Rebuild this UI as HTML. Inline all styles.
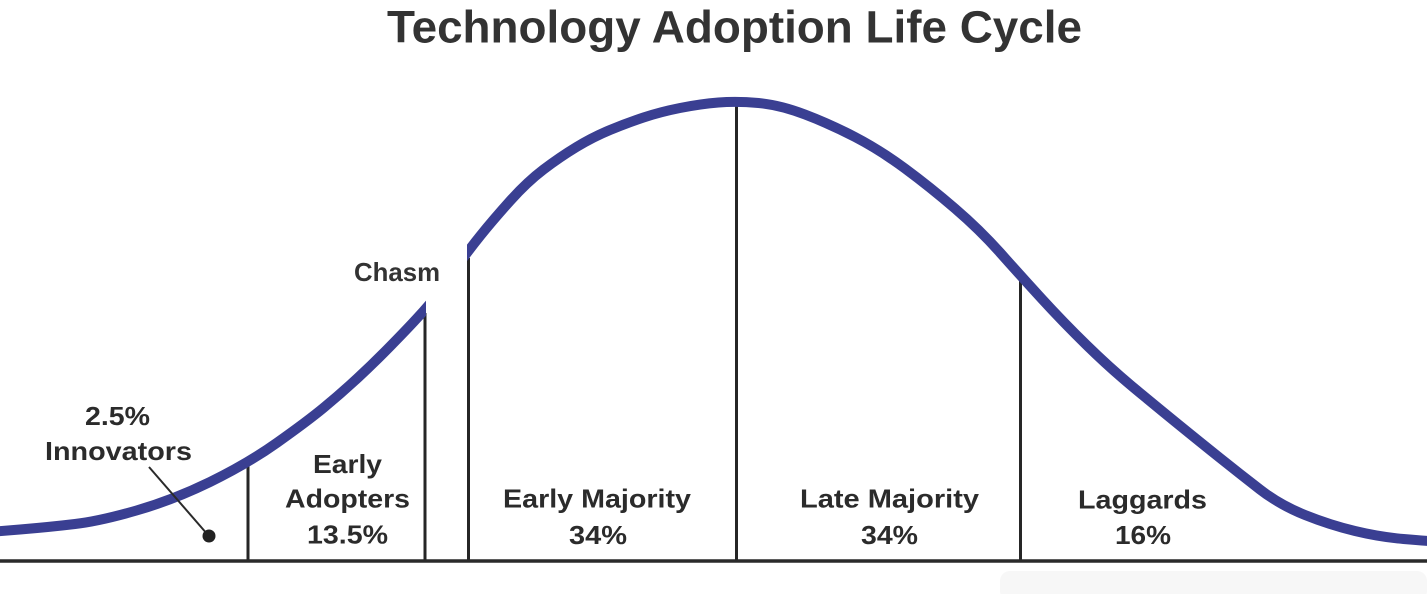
<!DOCTYPE html>
<html>
<head>
<meta charset="utf-8">
<style>
  html, body { margin: 0; padding: 0; background: #ffffff; }
  body { width: 1427px; height: 594px; overflow: hidden; }
  svg { display: block; }
  .t { font-family: "Liberation Sans", Arial, sans-serif; font-weight: bold; fill: #2b2b2b; }
</style>
</head>
<body>
<svg width="1427" height="594" viewBox="0 0 1427 594" xmlns="http://www.w3.org/2000/svg">
  <defs>
    <clipPath id="cl"><rect x="-20" y="0" width="446" height="594"/></clipPath>
    <clipPath id="cr"><rect x="467" y="0" width="1000" height="594"/></clipPath>
  </defs>

  <!-- faint box lower right -->
  <rect x="1000" y="571" width="427" height="30" rx="10" fill="#f7f7f7"/>

  <!-- Title -->
  <text class="t" x="387" y="42.5" font-size="45.5" textLength="695" lengthAdjust="spacingAndGlyphs" style="fill:#333333">Technology Adoption Life Cycle</text>

  <!-- vertical lines -->
  <g stroke="#262626" stroke-width="3" fill="none">
    <line x1="248" y1="462" x2="248" y2="562"/>
    <line x1="425" y1="313" x2="425" y2="562"/>
    <line x1="468.5" y1="258" x2="468.5" y2="562"/>
    <line x1="736.5" y1="100" x2="736.5" y2="562"/>
    <line x1="1020.5" y1="277" x2="1020.5" y2="562"/>
  </g>

  <!-- baseline axis -->
  <line x1="0" y1="561" x2="1427" y2="561" stroke="#2a2a2a" stroke-width="3.5"/>

  <!-- left curve -->
  <path clip-path="url(#cl)" fill="none" stroke="#3a3f92" stroke-width="10" stroke-linecap="butt" stroke-linejoin="round"
    d="M -10 532 L 20 529.5 Q 50 527 75 524 Q 100 521 136.5 510.5 Q 173 500 210 482 Q 247 464 277 442.75 Q 307 421.5 323.5 407.9 Q 340 394.3 356.5 379.1 Q 373 363.9 390 346.55 Q 407 329.2 417 318.3 Q 427 307.4 437 295.2 L 447 283"/>

  <!-- main curve -->
  <path clip-path="url(#cr)" fill="none" stroke="#3a3f92" stroke-width="10" stroke-linecap="butt" stroke-linejoin="round"
    d="M 440 290 L 454 270.5 Q 468 251 480.5 235.5 Q 493 220 510 201 Q 527 182 543.5 169.5 Q 560 157 576.5 147 Q 593 137 610 130 Q 627 123 643.5 117.5 Q 660 112 680 108 Q 700 104 718.5 102.5 Q 737 101 758.5 103 Q 780 105 805 114.5 Q 830 124 855 137 Q 880 150 905 168.5 Q 930 187 955 208.5 Q 980 230 1000 252.5 Q 1020 275 1041.5 298.5 Q 1063 322 1086.5 345 Q 1110 368 1133.5 387.5 Q 1157 407 1178.5 424.5 Q 1200 442 1220 458 Q 1240 474 1260 489.5 Q 1280 505 1305 515 Q 1330 525 1355 531 Q 1380 537 1403.5 539 Q 1427 541 1443.5 542 L 1460 543"/>

  <!-- innovators pointer -->
  <line x1="149" y1="467" x2="208" y2="535" stroke="#2a2a2a" stroke-width="2"/>
  <circle cx="209" cy="536" r="6.5" fill="#222222"/>

  <!-- Chasm -->
  <text class="t" x="354" y="281" font-size="26" textLength="86" lengthAdjust="spacingAndGlyphs" style="fill:#333333">Chasm</text>

  <!-- Labels -->
  <g class="t" font-size="26" text-anchor="middle">
    <text class="t" x="117.5" y="425" textLength="65" lengthAdjust="spacingAndGlyphs">2.5%</text>
    <text class="t" x="118.5" y="460" textLength="147" lengthAdjust="spacingAndGlyphs">Innovators</text>

    <text class="t" x="347.5" y="473" textLength="69" lengthAdjust="spacingAndGlyphs">Early</text>
    <text class="t" x="347.5" y="507.5" textLength="125" lengthAdjust="spacingAndGlyphs">Adopters</text>
    <text class="t" x="347.5" y="543.5" textLength="81" lengthAdjust="spacingAndGlyphs">13.5%</text>

    <text class="t" x="597" y="507.5" textLength="188" lengthAdjust="spacingAndGlyphs">Early Majority</text>
    <text class="t" x="598" y="544" textLength="58" lengthAdjust="spacingAndGlyphs">34%</text>

    <text class="t" x="889.5" y="507.5" textLength="179" lengthAdjust="spacingAndGlyphs">Late Majority</text>
    <text class="t" x="889.5" y="544" textLength="57" lengthAdjust="spacingAndGlyphs">34%</text>

    <text class="t" x="1142.5" y="508.5" textLength="129" lengthAdjust="spacingAndGlyphs">Laggards</text>
    <text class="t" x="1143" y="544" textLength="56" lengthAdjust="spacingAndGlyphs">16%</text>
  </g>
</svg>
</body>
</html>
